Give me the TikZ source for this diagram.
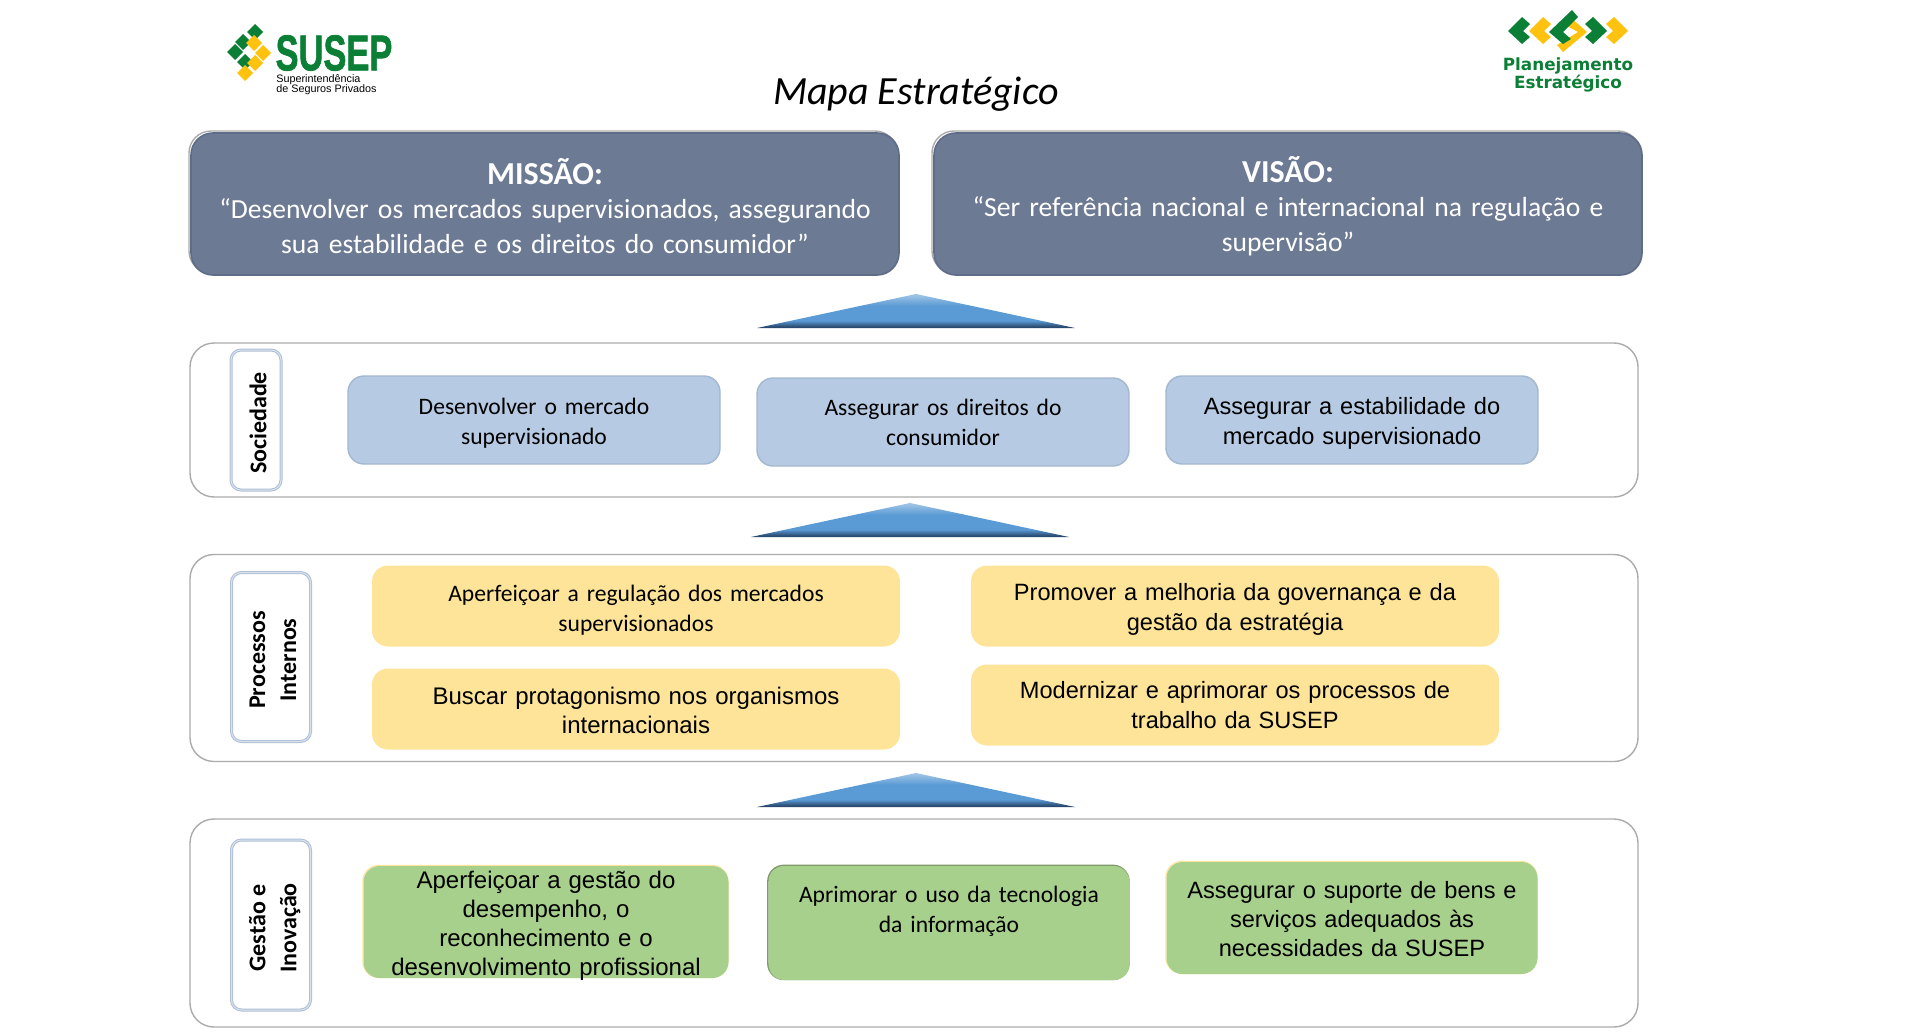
\documentclass[tikz,border=0pt]{standalone}
\usepackage{fontspec}
\setmainfont{Carlito}
\newfontfamily\arialfont{Liberation Sans}
\newfontfamily\heavyfont[UprightFont=* Bold, FakeBold=1.5]{Liberation Sans}
\newfontfamily\plansfont{DejaVu Sans}
\definecolor{slatefill}{HTML}{6D7A94}
\definecolor{slateline}{HTML}{5F6C88}
\definecolor{bluefill}{HTML}{B6CBE3}
\definecolor{blueline}{HTML}{A3B7CF}
\definecolor{yellowfill}{HTML}{FDE499}
\definecolor{greenfill}{HTML}{A8D08D}
\definecolor{greenedge}{HTML}{7F9A6A}
\definecolor{tagline}{HTML}{AEBFD6}
\definecolor{panelline}{HTML}{ABABAB}
\definecolor{logogreen}{HTML}{0B7F35}
\definecolor{logoyellow}{HTML}{FFC20E}
\definecolor{arrowtop}{HTML}{9CC2E5}
\definecolor{arrowmid}{HTML}{5B9BD5}
\definecolor{arrowlow}{HTML}{2A4A70}
\pgfdeclareverticalshading{layerarrow}{100bp}{color(0bp)=(arrowlow); color(27bp)=(arrowlow); color(36bp)=(arrowmid); color(58bp)=(arrowmid); color(73bp)=(arrowtop); color(100bp)=(arrowtop)}
\newcommand{\tallstrut}[1]{\rule{0pt}{#1}}
\tikzstyle{topbox} = [draw=slateline, fill=slatefill, rounded corners=11pt, line width=0.8pt, preaction={draw=panelline, line width=0.7pt, transform canvas={xshift=-1pt, yshift=1pt}}, minimum width=354pt, minimum height=71pt, text=white, align=center, text width=354pt, inner xsep=0pt, font=\fontsize{13.8}{17.2}\selectfont]
\tikzstyle{panel} = [draw=panelline, rounded corners=12pt, line width=0.7pt, minimum width=724pt]
\tikzstyle{tagbox} = [draw=tagline, fill=white, rounded corners=5pt, line width=0.5pt, double=tagline!45, double distance=0.5pt]
\tikzstyle{taglabel} = [rotate=90, xshift=-1.5pt, yshift=-1pt, align=center, font=\fontsize{12}{15.5}\selectfont\bfseries]
\tikzstyle{goal} = [rounded corners=8pt, align=center, minimum width=186pt, minimum height=44pt, text width=186pt, inner xsep=0pt, inner ysep=0pt]
\tikzstyle{tall} = [execute at begin node={\tallstrut{12pt}}]
\tikzstyle{bluegoal} = [goal, draw=blueline, line width=0.7pt, fill=bluefill]
\tikzstyle{yellowgoal} = [goal, fill=yellowfill, minimum width=264pt, minimum height=40.5pt, text width=264pt]
\tikzstyle{greengoal} = [goal, fill=greenfill, minimum height=56pt]
\tikzstyle{calibri} = [font=\fontsize{11.8}{14.9}\selectfont]
\tikzstyle{arial} = [font=\arialfont\fontsize{11.8}{14.6}\selectfont]
\begin{document}
\begin{tikzpicture}[x=0.5pt, y=-0.5pt]
	\useasboundingbox (0,0) rectangle (1920,1032);

	% left logo
	\foreach \px/\py/\col in {255/32/logogreen, 243/42/logogreen, 235/52/logogreen, 245/62/logogreen, 254/43/logoyellow, 263/53/logoyellow, 255/63/logoyellow, 245/73/logoyellow}
		\fill[\col] (\px-8,\py) -- (\px,\py-8) -- (\px+8,\py) -- (\px,\py+8) -- cycle;
	\node (SUSEP_NAME) [inner sep=0pt] at (334,53) {\heavyfont\textcolor{logogreen}{\scalebox{0.82}[1.2]{\fontsize{21}{21}\selectfont SUSEP}}};
	\node (SUSEP_SUB) [anchor=north west, inner sep=0pt, align=left, font=\arialfont\fontsize{5.4}{5.2}\selectfont] at (276,74) {Superintendência\\de Seguros Privados};

	% right logo
	\foreach \sx/\dir/\col in {1508/1/logogreen, 1529/1/logoyellow, 1607/-1/logogreen, 1628/-1/logoyellow}
		\fill[\col] (\sx,31) -- (\sx+\dir*14,17) -- (\sx+\dir*22,24) -- (\sx+\dir*15,31) -- (\sx+\dir*22,37) -- (\sx+\dir*14,44) -- cycle;
	\fill[logoyellow] (1587,32) -- (1570,17) -- (1563,24) -- (1578,32) -- (1557,45) -- (1563,52) -- cycle;
	\fill[logogreen] (1549,32) -- (1572,10) -- (1578,17) -- (1563,32) -- (1571,39) -- (1563,44) -- cycle;
	\node (PLANO) at (1568,75) [align=center, inner sep=0pt, text=logogreen, font=\plansfont\fontsize{8.4}{9}\selectfont\bfseries] {Planejamento\\Estratégico};

	\node (TITLE) at (916,94) {\fontsize{20}{22}\selectfont\itshape Mapa Estratégico};

	% mission and vision
	\node (MISSAO) [topbox] at (545,204) {{\fontsize{16}{19}\selectfont\bfseries \tallstrut{15pt}MISSÃO:}\\“Desenvolver os mercados supervisionados, assegurando\\sua estabilidade e os direitos do consumidor”};
	\node (VISAO) [topbox] at (1288,204) {{\fontsize{16}{19}\selectfont\bfseries \tallstrut{15pt}VISÃO:}\\“Ser referência nacional e internacional na regulação e\\supervisão”};

	% arrows between layers
	\foreach \tx/\ty in {916/294, 910/503, 916/773}
		\shade[shading=layerarrow] (\tx-159,\ty+34) -- (\tx,\ty) -- (\tx+159,\ty+34) -- cycle;

	% society
	\node (SOCIEDADE_PANEL) [panel, minimum height=77pt] at (914,420) {};
	\node (SOCIEDADE) [tagbox, minimum width=25pt, minimum height=70pt] at (256,420) {};
	\node at (SOCIEDADE) [taglabel] {Sociedade};
	\node (GOAL_A) [bluegoal, calibri, execute at begin node={\tallstrut{11pt}}] at (534,420) {Desenvolver o mercado\\supervisionado};
	\node (GOAL_B) [bluegoal, calibri] at (943,422) {Assegurar os direitos do\\consumidor};
	\node (GOAL_C) [bluegoal, arial, tall] at (1352,420) {Assegurar a estabilidade do\\mercado supervisionado};

	% internal processes
	\node (PROCESSOS_PANEL) [panel, minimum height=103.5pt] at (914,658) {};
	\node (PROCESSOS) [tagbox, minimum width=39.5pt, minimum height=84.5pt] at (271,657) {};
	\node at (PROCESSOS) [taglabel] {Processos\\Internos};
	\node (GOAL_D) [yellowgoal, calibri, tall] at (636,606) {Aperfeiçoar a regulação dos mercados\\supervisionados};
	\node (GOAL_E) [yellowgoal, arial, tall] at (1235,606) {Promover a melhoria da governança e da\\gestão da estratégia};
	\node (GOAL_F) [yellowgoal, arial, font=\arialfont\fontsize{12}{14.6}\selectfont, execute at begin node={\tallstrut{10pt}}] at (636,709) {Buscar protagonismo nos organismos\\internacionais};
	\node (GOAL_G) [yellowgoal, arial] at (1235,705) {Modernizar e aprimorar os processos de\\trabalho da SUSEP};

	% management and innovation
	\node (GESTAO_PANEL) [panel, minimum height=104pt] at (914,923) {};
	\node (GESTAO) [tagbox, minimum width=39.5pt, minimum height=85pt] at (271,925) {};
	\node at (GESTAO) [taglabel, yshift=-0.8pt] {Gestão e\\Inovação};
	\node (GOAL_H) [greengoal, tall, inner ysep=-1.5pt, minimum width=182.5pt, text width=182.5pt, preaction={draw=yellowfill, line width=0.6pt, transform canvas={xshift=-0.3pt, yshift=0.3pt}}, font=\arialfont\fontsize{12}{14.5}\selectfont] at (546,922) {Aperfeiçoar a gestão do\\desempenho, o\\reconhecimento e o\\desenvolvimento profissional};
	\node (GOAL_I) [greengoal, calibri, minimum width=180.5pt, minimum height=57pt, text width=180.5pt, preaction={draw=greenedge, line width=0.8pt, transform canvas={xshift=-0.3pt, yshift=0.3pt}}] at (949,923) {Aprimorar o uso da tecnologia\\da informação\\[-1pt]\mbox{}};
	\node (GOAL_J) [greengoal, arial, minimum width=185.5pt, text width=185.5pt, preaction={draw=yellowfill, line width=0.6pt, transform canvas={xshift=-0.3pt, yshift=0.3pt}}, execute at begin node={\tallstrut{9.5pt}}] at (1352,918) {Assegurar o suporte de bens e\\serviços adequados às\\necessidades da SUSEP};
\end{tikzpicture}
\end{document}
